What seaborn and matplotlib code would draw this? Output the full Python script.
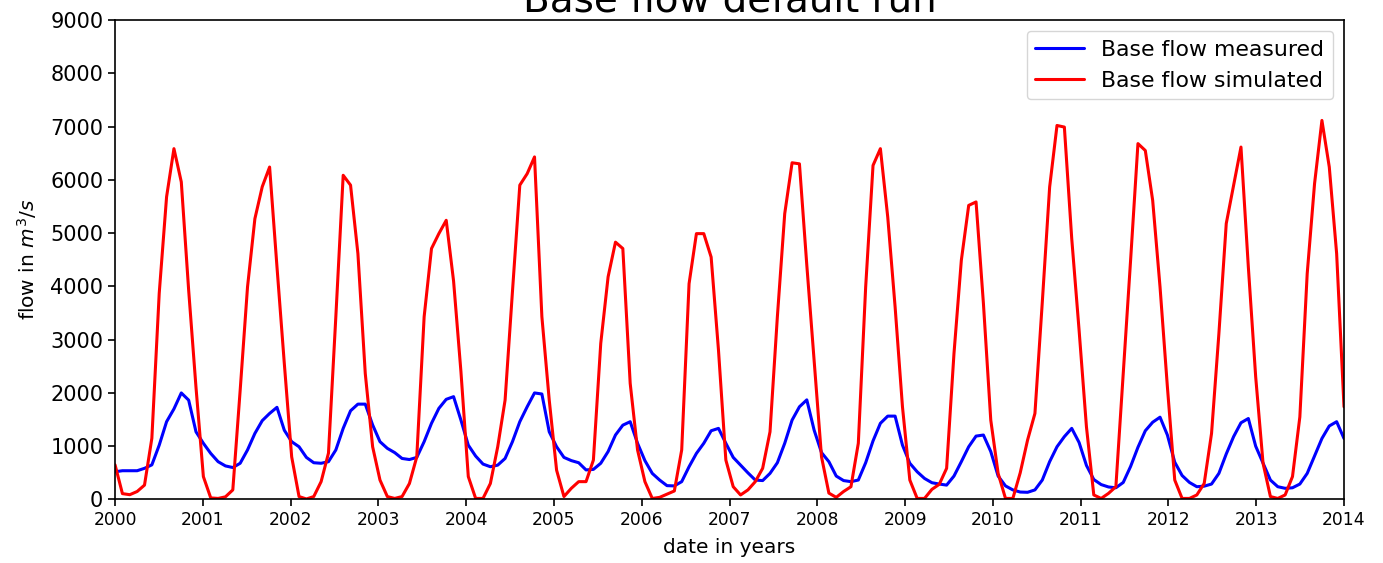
import numpy as np
import pandas as pd
import matplotlib
matplotlib.use("Agg")
import matplotlib.pyplot as plt
import seaborn as sns

# ---- data -------------------------------------------------------------
start_year = 2000
end_year = 2014
n_points = 168

base_flow_measured = [
    520, 540, 540, 540, 585, 650, 1020, 1460, 1700, 2000, 1865, 1270,
    1055, 865, 710, 630, 600, 680, 930, 1240, 1480, 1615, 1730, 1300,
    1085, 990, 790, 690, 680, 710, 930, 1335, 1665, 1790, 1790, 1400,
    1085, 960, 880, 770, 750, 790, 1085, 1430, 1710, 1880, 1930, 1490,
    1020, 815, 665, 615, 645, 770, 1085, 1460, 1740, 2000, 1980, 1270,
    990, 790, 730, 690, 555, 565, 680, 900, 1210, 1395, 1460, 1055,
    730, 490, 365, 260, 255, 335, 615, 865, 1055, 1290, 1335, 1055,
    790, 645, 500, 365, 355, 490, 690, 1055, 1490, 1740, 1870, 1300,
    880, 710, 440, 355, 335, 365, 690, 1100, 1430, 1565, 1565, 1020,
    680, 520, 395, 315, 290, 270, 440, 710, 990, 1190, 1210, 900,
    440, 255, 180, 140, 135, 180, 365, 710, 990, 1180, 1335, 1070,
    640, 375, 280, 235, 220, 320, 620, 980, 1290, 1450, 1545, 1210,
    700, 450, 320, 240, 250, 290, 490, 855, 1180, 1440, 1520, 1000,
    680, 365, 240, 210, 220, 290, 490, 815, 1145, 1380, 1460, 1145,
]

base_flow_simulated = [
    650, 110, 90, 150, 270, 1150, 3870, 5680, 6585, 5960, 3930, 2100,
    430, 30, 20, 50, 180, 2050, 3990, 5270, 5870, 6240, 4370, 2550,
    800, 55, 10, 55, 335, 870, 3430, 6085, 5900, 4615, 2365, 990,
    365, 55, 20, 55, 300, 800, 3430, 4710, 4990, 5240, 4100, 2400,
    430, 20, 20, 300, 990, 1865, 3900, 5900, 6115, 6430, 3430, 1865,
    550, 55, 210, 335, 335, 740, 2930, 4180, 4830, 4710, 2180, 930,
    335, 20, 40, 100, 160, 930, 4050, 4990, 4990, 4550, 2800, 740,
    240, 85, 180, 335, 585, 1270, 3430, 5365, 6320, 6300, 4400, 2600,
    800, 120, 40, 150, 240, 1055, 3990, 6270, 6585, 5300, 3615, 1740,
    365, 20, 20, 190, 285, 585, 2740, 4490, 5520, 5585, 3680, 1490,
    490, 20, 20, 500, 1115, 1615, 3700, 5865, 7020, 6990, 4900, 3180,
    1365, 85, 20, 115, 240, 2365, 4490, 6680, 6550, 5615, 3990, 2115,
    365, 20, 20, 85, 300, 1240, 3115, 5180, 5900, 6615, 4365, 2300,
    680, 55, 20, 85, 430, 1550, 4240, 5930, 7115, 6240, 4615, 1740,
]

year_ticks = list(range(2000, 2015))
flow_ticks = list(range(0, 9001, 1000))

series_names = ["Base flow measured", "Base flow simulated"]
series_colors = ["blue", "red"]

# ---- figure -----------------------------------------------------------
sns.set_style("ticks")
plt.rcParams["font.family"] = ["DejaVu Sans"]
plt.rcParams["mathtext.fontset"] = "dejavusans"
for key in ["text.color", "axes.labelcolor", "xtick.color", "ytick.color"]:
    plt.rcParams[key] = "black"

years = np.linspace(start_year, end_year, n_points)
df = pd.DataFrame({
    "year": np.concatenate([years, years]),
    "flow": base_flow_measured + base_flow_simulated,
    "series": [series_names[0]] * n_points + [series_names[1]] * n_points,
})

fig = plt.figure(figsize=(13.83, 5.63), dpi=100)
ax = fig.add_axes([0.0832, 0.1128, 0.8886, 0.8517])

sns.lineplot(data=df, x="year", y="flow", hue="series",
             palette=dict(zip(series_names, series_colors)),
             linewidth=2.2, ax=ax, legend=True)

ax.set_xlim(start_year, end_year)
ax.set_ylim(0, 9000)
ax.set_xticks(year_ticks)
ax.set_xticklabels([str(y) for y in year_ticks], fontsize=12.3)
ax.set_yticks(flow_ticks)
ax.set_yticklabels([str(v) for v in flow_ticks], fontsize=15)
ax.tick_params(axis="both", direction="out", length=5, width=1.2,
               color="black", labelcolor="black")

for s in ax.spines.values():
    s.set_visible(True)
    s.set_color("black")
    s.set_linewidth(1.2)

ax.set_xlabel("date in years", fontsize=14.5, labelpad=6, color="black")
ax.set_ylabel("flow in $m^3/s$", fontsize=14.5, labelpad=8, color="black")
ax.set_title("Base flow default run", fontsize=28, pad=2, color="black")

leg = ax.legend(loc="upper right", fontsize=15.8, frameon=True,
                borderaxespad=0.5, handlelength=2.2)
leg.get_frame().set_edgecolor("#cccccc")
for line in leg.get_lines():
    line.set_linewidth(2.2)
for t in leg.get_texts():
    t.set_color("black")

fig.savefig("out.png", dpi=100)
